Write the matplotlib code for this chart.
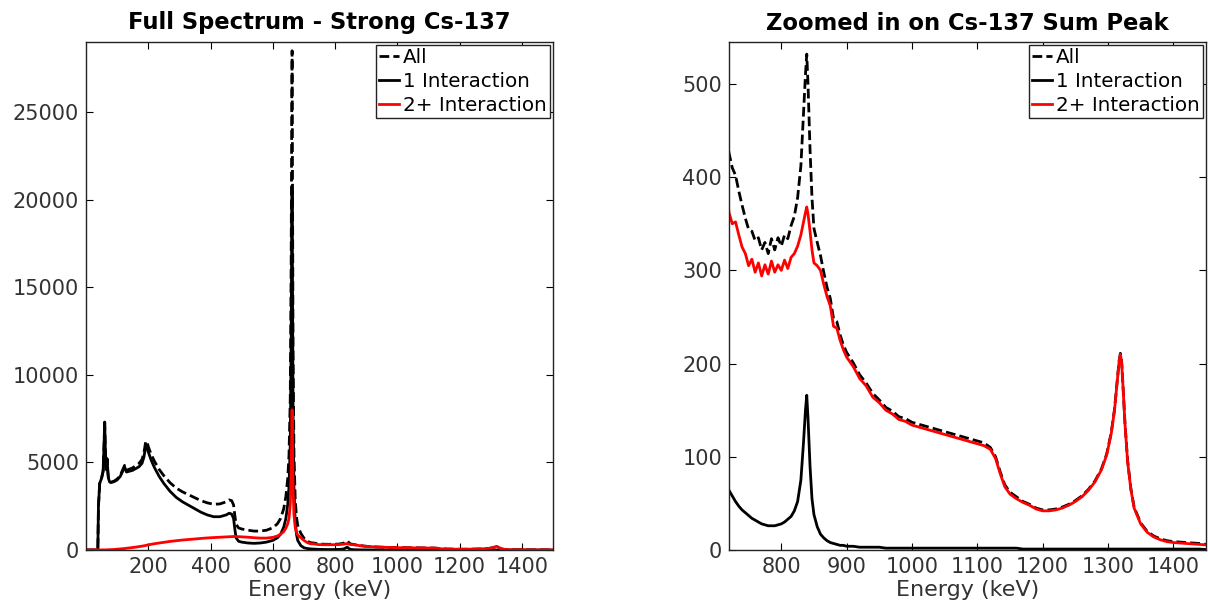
import matplotlib
matplotlib.use("Agg")
import matplotlib.pyplot as plt

# ---------------- data ----------------
energy = [0, 20, 38, 40, 44, 50, 55, 58, 60, 62, 65, 68, 70, 72, 76, 80, 90, 100,
          110, 118, 124, 130, 140, 150, 160, 170, 180, 186, 192, 196, 200, 210, 220,
          235, 250, 270, 290, 310, 330, 350, 370, 390, 410, 430, 450, 460, 468, 474,
          478, 482, 490, 500, 520, 540, 560, 580, 600, 615, 625, 635, 642, 648, 652,
          656, 659, 661, 662, 663, 665, 668, 672, 676, 680, 690, 700, 710,
          720, 725, 730, 735, 740, 745, 750, 755, 760, 765, 770, 775, 780, 785, 790,
          795, 800, 805, 810, 815, 820, 825, 830, 834, 837, 839, 841, 844, 847, 850,
          855, 860, 865, 870, 875, 880, 885, 890, 895, 900, 910, 920, 930, 940, 950,
          960, 970, 980, 990, 1000, 1010, 1020, 1030, 1040, 1050, 1060, 1070, 1080,
          1090, 1100, 1110, 1120, 1128, 1135, 1142, 1150, 1160, 1170, 1180, 1190,
          1200, 1210, 1220, 1230, 1240, 1250, 1260, 1270, 1280, 1290, 1298, 1305,
          1310, 1314, 1317, 1319, 1321, 1323, 1326, 1330, 1335, 1340, 1350, 1360,
          1370, 1380, 1390, 1400, 1420, 1440, 1460, 1480, 1500]

counts_one = [0, 0, 0, 2500, 3800, 4100, 4500, 6000, 7300, 5800, 4600, 5200, 4500, 4100,
              3880, 3850, 3900, 4000, 4200, 4500, 4750, 4450, 4500, 4550, 4650, 4750,
              4950, 5300, 5950, 5900, 5600, 5100, 4700, 4200, 3800, 3350, 3000, 2750,
              2550, 2350, 2150, 2000, 1900, 1900, 2000, 2100, 2050, 1800, 1200, 700,
              500, 450, 400, 380, 400, 450, 550, 700, 900, 1300, 1800, 2600, 3600,
              6000, 12000, 19000, 20500, 16000, 8000, 3500, 1600, 900, 550, 250, 130, 85,
              64, 58, 52, 47, 43, 40, 37, 34, 32, 30, 28, 27, 26, 26, 26,
              27, 28, 30, 33, 36, 42, 52, 75, 115, 150, 166, 140, 90, 55, 38,
              25, 17, 13, 10, 8, 7, 6, 5, 5, 4, 4, 3, 3, 3, 3,
              2, 2, 2, 2, 2, 2, 2, 2, 2, 2, 2, 2, 2,
              2, 2, 2, 2, 2, 2, 2, 2, 2, 1, 1, 1,
              1, 1, 1, 1, 1, 1, 1, 1, 1, 1, 1, 1,
              1, 1, 1, 1, 1, 1, 1, 1, 1, 1, 1, 1,
              1, 1, 1, 1, 1, 1, 0, 0, 0]

counts_multi = [0, 0, 0, 0, 0, 2, 3, 4, 5, 6, 8, 10, 12, 14, 18, 22, 30, 45,
                60, 75, 85, 100, 120, 140, 165, 190, 220, 240, 260, 280, 295, 330, 360,
                400, 440, 490, 530, 570, 600, 630, 660, 690, 710, 730, 750, 760, 765, 770,
                770, 770, 760, 750, 730, 700, 680, 680, 720, 800, 900, 1050, 1250, 1500,
                1800, 2600, 4500, 7000, 8000, 6500, 3500, 2000, 1300, 1000, 850, 700, 550,
                430,
                362, 350, 352, 338, 325, 318, 305, 312, 298, 308, 294, 306, 296, 310, 298,
                306, 300, 311, 302, 314, 318, 326, 338, 352, 362, 368, 360, 342, 322, 308,
                305, 300, 285, 272, 262, 240, 238, 225, 215, 207, 197, 184, 176, 164, 158,
                150, 146, 140, 138, 134, 132, 130, 128, 126, 124, 122, 120, 118,
                116, 114, 112, 108, 98, 82, 68, 60, 55, 51, 48, 44,
                42, 42, 43, 45, 48, 52, 57, 64, 73, 86, 102, 125,
                150, 180, 202, 210, 200, 175, 135, 95, 65, 45, 28, 19,
                14, 11, 9, 8, 7, 6, 5, 4, 4]

counts_all = [0, 0, 0, 2500, 3800, 4100, 4500, 6000, 7300, 5800, 4600, 5200, 4500, 4100,
              3900, 3870, 3930, 4050, 4260, 4580, 4830, 4550, 4620, 4690, 4820, 4940,
              5170, 5540, 6210, 6180, 5900, 5430, 5060, 4600, 4240, 3840, 3530, 3320,
              3150, 2980, 2810, 2690, 2610, 2630, 2750, 2860, 2815, 2570, 1970, 1470,
              1260, 1200, 1130, 1080, 1080, 1130, 1270, 1500, 1800, 2350, 3050, 4100,
              5400, 8600, 16500, 26000, 28500, 22500, 11500, 5500, 2900, 1900, 1400, 950,
              680, 515,
              426, 410, 402, 385, 370, 356, 344, 342, 332, 335, 322, 330, 318, 334, 322,
              335, 326, 338, 334, 348, 358, 378, 412, 468, 510, 532, 498, 430, 378, 345,
              330, 316, 298, 282, 270, 248, 245, 231, 220, 212, 201, 188, 179, 168, 161,
              153, 149, 143, 141, 137, 135, 133, 131, 129, 127, 125, 123, 121,
              119, 117, 115, 110, 100, 84, 70, 62, 57, 52, 49, 45,
              43, 43, 44, 46, 49, 53, 58, 65, 74, 87, 103, 126,
              151, 181, 203, 211, 201, 176, 136, 96, 66, 46, 29, 20,
              15, 12, 10, 9, 8, 7, 5, 4, 4]

labels = ["All", "1 Interaction", "2+ Interaction"]
titles = ["Full Spectrum - Strong Cs-137", "Zoomed in on Cs-137 Sum Peak"]
left_xticks = [200, 400, 600, 800, 1000, 1200, 1400]
left_yticks = [0, 5000, 10000, 15000, 20000, 25000]
right_xticks = [800, 900, 1000, 1100, 1200, 1300, 1400]
right_yticks = [0, 100, 200, 300, 400, 500]

# ---------------- figure ----------------
W, H = 1208, 607
fig = plt.figure(figsize=(W / 100, H / 100), dpi=100)
plt.rcParams['font.family'] = ['DejaVu Sans']

ax1 = fig.add_axes([86 / W, 1 - 550 / H, (553 - 86) / W, (550 - 42) / H])
ax2 = fig.add_axes([729 / W, 1 - 550 / H, (1206 - 729) / W, (550 - 42) / H])

tick_col = '#333333'

def draw(ax, xlim, ylim, xticks, yticks, title):
    ax.plot(energy, counts_all, color='black', lw=2.0, ls=(0, (3.5, 1.5)), label=labels[0])
    ax.plot(energy, counts_one, color='black', lw=2.0, label=labels[1])
    ax.plot(energy, counts_multi, color='red', lw=2.0, label=labels[2])
    ax.set_xlim(*xlim)
    ax.set_ylim(*ylim)
    ax.set_xticks(xticks)
    ax.set_yticks(yticks)
    ax.tick_params(direction='in', length=5, width=0.8, top=True, right=True,
                   labelsize=15, labelcolor=tick_col, pad=5)
    for s in ax.spines.values():
        s.set_linewidth(1.0)
        s.set_color('#222222')
    ax.set_xlabel("Energy (keV)", fontsize=16, color=tick_col, labelpad=2)
    ax.set_title(title, fontsize=16.3, fontweight='bold', pad=9)
    leg = ax.legend(loc='upper right', fontsize=14.3, frameon=True, fancybox=False,
                    framealpha=1, edgecolor='#222222', handlelength=1.0,
                    handletextpad=0.2, borderpad=0.15, labelspacing=0.25,
                    borderaxespad=0.15)
    leg.get_frame().set_linewidth(1.0)

draw(ax1, (0, 1500), (0, 29000), left_xticks, left_yticks, titles[0])
draw(ax2, (720, 1450), (0, 545), right_xticks, right_yticks, titles[1])

fig.savefig("out.png", dpi=100)
